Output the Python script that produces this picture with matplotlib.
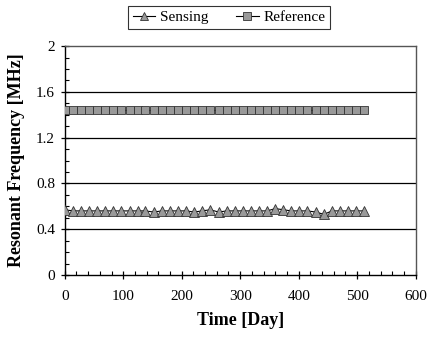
import matplotlib
matplotlib.use("Agg")
import matplotlib.pyplot as plt
from matplotlib.ticker import MultipleLocator, FuncFormatter

days = [0, 14, 28, 42, 55, 69, 83, 97, 111, 125, 138, 152, 166, 180, 194,
        208, 221, 235, 249, 263, 277, 291, 304, 318, 332, 346, 360, 374,
        387, 401, 415, 429, 443, 457, 470, 484, 498, 512]
sensing = [0.57, 0.56, 0.56, 0.56, 0.56, 0.56, 0.56, 0.56, 0.56, 0.56, 0.56,
           0.55, 0.56, 0.56, 0.56, 0.56, 0.55, 0.56, 0.57, 0.55, 0.56, 0.56,
           0.56, 0.56, 0.56, 0.56, 0.58, 0.57, 0.56, 0.56, 0.56, 0.55, 0.53,
           0.56, 0.56, 0.56, 0.56, 0.56]
reference = [1.44] * len(days)

plt.rcParams['font.family'] = ['Liberation Serif', 'DejaVu Serif']

fig = plt.figure(figsize=(4.30, 3.39), dpi=100)
ax = fig.add_axes([0.1505, 0.1888, 0.8162, 0.6752])

ax.plot(days, sensing, color='black', lw=0.8, marker='^', markersize=6.6,
        markerfacecolor='#999999', markeredgecolor='#333333', markeredgewidth=0.6,
        label='Sensing', zorder=3)
ax.plot(days, reference, color='black', lw=0.8, marker='s', markersize=6.0,
        markerfacecolor='#999999', markeredgecolor='#333333', markeredgewidth=0.6,
        label='Reference', zorder=3)

ax.set_xlim(0, 600)
ax.set_ylim(0, 2)
ax.xaxis.set_major_locator(MultipleLocator(100))
ax.xaxis.set_minor_locator(MultipleLocator(20))
ax.yaxis.set_major_locator(MultipleLocator(0.4))
ax.yaxis.set_minor_locator(MultipleLocator(0.1))
ax.yaxis.set_major_formatter(FuncFormatter(lambda v, p: f"{v:g}"))

for y in [0.4, 0.8, 1.2, 1.6]:
    ax.axhline(y, color='black', lw=0.9, zorder=1)

ax.tick_params(axis='both', which='major', direction='inout', length=6,
               width=0.9, labelsize=11, pad=4)
ax.tick_params(axis='both', which='minor', direction='in', length=3, width=0.8)
ax.tick_params(axis='x', which='major', pad=8)

for s in ['left', 'bottom']:
    ax.spines[s].set_color('black')
    ax.spines[s].set_linewidth(1.0)
for s in ['top', 'right']:
    ax.spines[s].set_color('#555555')
    ax.spines[s].set_linewidth(1.0)

ax.set_xlabel('Time [Day]', fontsize=13, fontweight='bold', labelpad=6)
ax.set_ylabel('Resonant Frequency [MHz]', fontsize=13, fontweight='bold', labelpad=8)

leg = ax.legend(loc='lower center', bbox_to_anchor=(0.468, 1.075), ncol=2,
                frameon=True, fancybox=False, edgecolor='black', fontsize=11,
                handlelength=1.5, columnspacing=1.8, borderpad=0.3,
                handletextpad=0.3, borderaxespad=0, markerscale=0.85)
leg.get_frame().set_linewidth(0.8)

fig.savefig('out.png', dpi=100)
